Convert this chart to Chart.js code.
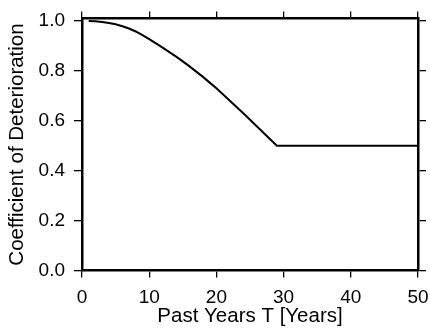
<!DOCTYPE html>
<html>
<head>
<meta charset="utf-8">
<script src="https://cdn.jsdelivr.net/npm/chart.js@4/dist/chart.umd.min.js"></script>
<style>
html,body{margin:0;padding:0;background:#fff;}
#wrap{width:430px;height:331px;}
</style>
</head>
<body>
<div id="wrap"><canvas id="c" width="430" height="331"></canvas></div>
<script>
const years = [1,2,3,4,5,6,7,8,9,10,11,12,13,14,15,16,17,18,19,20,21,22,23,24,25,26,27,28,29,50];
const coefficient = [1.000,0.999,0.996,0.992,0.987,0.979,0.970,0.958,0.943,0.927,0.910,0.893,0.875,0.857,0.838,0.818,0.797,0.776,0.753,0.730,0.705,0.680,0.655,0.630,0.604,0.578,0.552,0.526,0.500,0.500];
const xTicks = [0,10,20,30,40,50];
const yTicks = [0.0,0.2,0.4,0.6,0.8,1.0];

const FAMILY = '"Liberation Sans", Arial, Helvetica, sans-serif';
const TICKFONT = {family:FAMILY, size:19, lineHeight:1.0};
const XTITLEFONT = {family:FAMILY, size:20.5, lineHeight:1.0};
const YTITLEFONT = {family:FAMILY, size:20.5};
const keepTicks = (vals) => (scale) => { scale.ticks = vals.map(v => ({value:v})); };

function axis(pos, isX, vals, showLabels) {
  const o = {
    type:'linear', position:pos,
    min:0, max: isX ? 50 : 1.01,
    afterBuildTicks: keepTicks(vals),
    grid:{display:true, drawOnChartArea:false, drawTicks:true, tickLength: isX ? 7 : 8, color:'#000', lineWidth:1.3},
    border:{display:true, color:'#000', width:2.5},
    ticks:{display:showLabels, color:'#000', font:TICKFONT, padding: isX ? 11 : 9, maxRotation:0, autoSkip:false,
      callback:(v)=> isX ? String(v) : v.toFixed(1)},
    title: (showLabels ? (isX
      ? {display:true, text:'Past Years T [Years]', color:'#000', font:XTITLEFONT, padding:{top:-12,bottom:4}}
      : {display:true, text:'Coefficient of Deterioration', color:'#000', font:YTITLEFONT, padding:{top:0,bottom:0}})
      : {display:false})
  };
  if (isX && showLabels) {
    o.afterFit = (s) => { s.paddingRight = 12; };
  }
  return o;
}

new Chart(document.getElementById('c'), {
  type:'line',
  data:{
    datasets:[{
      data: years.map((x,i)=>({x:x, y:coefficient[i]})),
      borderColor:'#000', borderWidth:2, pointRadius:0, tension:0, fill:false
    }]
  },
  options:{
    responsive:false, animation:false, devicePixelRatio:1,
    layout:{padding:{left:5, right:0, top:5, bottom:0}},
    plugins:{legend:{display:false}, tooltip:{enabled:false}},
    scales:{
      x: axis('bottom', true, xTicks, true),
      x2: axis('top', true, xTicks, false),
      y: axis('left', false, yTicks, true),
      y2: axis('right', false, yTicks, false)
    }
  }
});
</script>
</body>
</html>
